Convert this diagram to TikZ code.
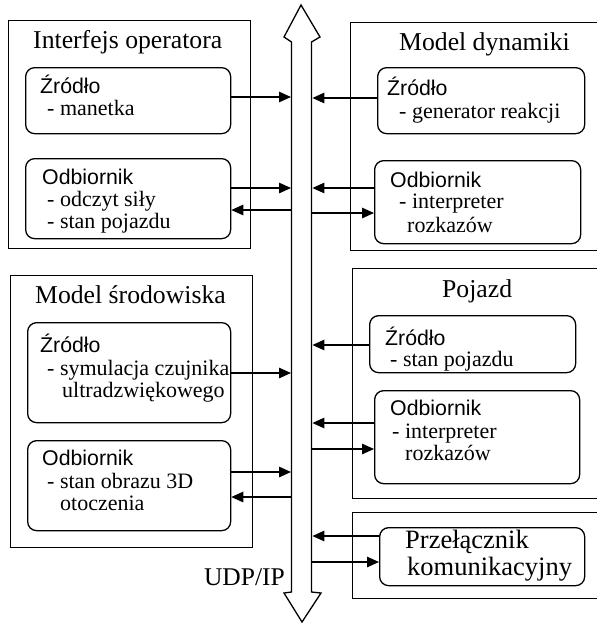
\documentclass[tikz,border=0pt]{standalone}
\usepackage{fontspec}
\setmainfont{Liberation Serif}
\newfontfamily\sansf{Liberation Sans}
\usetikzlibrary{arrows.meta}
\begin{document}
\begin{tikzpicture}[x=1pt,y=-1pt,
  outer/.style={draw, line width=1.3pt, rectangle, inner sep=0, anchor=north west},
  inner/.style={draw, line width=1.3pt, rectangle, rounded corners=9pt, inner sep=0, anchor=north west},
  ttl/.style={anchor=base west, inner sep=0, font=\fontsize{25.7}{28}\selectfont},
  hd/.style={anchor=base west, inner sep=0, font=\sansf\fontsize{21.3}{24}\selectfont},
  it/.style={anchor=base west, inner sep=0, font=\fontsize{22}{24}\selectfont},
  big/.style={anchor=base west, inner sep=0, font=\fontsize{26.5}{28}\selectfont},
  conn/.style={line width=1.3pt, -{Triangle[length=12pt,width=10.5pt]}}]
\useasboundingbox (0,0) rectangle (597,624);
\clip (0,0) rectangle (597,624);

% bus
\node[inner sep=0, minimum width=21pt, minimum height=550pt, anchor=north west] (bus) at (291,42) {};
\draw[line width=1.3pt, line join=miter] (291.5,42) -- (284,37) -- (301,5) -- (320,37) -- (311.5,42)
  -- (311.5,592) -- (321,593) -- (302,622) -- (284,593) -- (291.5,592) -- cycle;
\node[anchor=base east, inner sep=0, font=\fontsize{25.5}{28}\selectfont] (udp) at (285,585) {UDP/IP};

% Interfejs operatora
\node[outer, minimum width=242pt, minimum height=228pt] (io) at (8,20) {};
\node[ttl] (iot) at (33,48) {Interfejs operatora};
\node[inner, minimum width=205pt, minimum height=66pt] (ioz) at (25,67) {};
\node[hd] (iozh) at (40,93) {Źródło};
\node[it] (iozt) at (47,115) {- manetka};
\node[inner, minimum width=205pt, minimum height=80pt] (ioo) at (25,158) {};
\node[hd] (iooh) at (42,184) {Odbiornik};
\node[it] (ioo1) at (47,206) {- odczyt siły};
\node[it] (ioo2) at (47,228) {- stan pojazdu};

% Model dynamiki
\node[outer, minimum width=260pt, minimum height=228pt] (md) at (350,22) {};
\node[ttl] (mdt) at (399,50) {Model dynamiki};
\node[inner, minimum width=207pt, minimum height=66pt] (mdz) at (377,67) {};
\node[hd] (mdzh) at (387,95) {Źródło};
\node[it] (mdzt) at (399,118) {- generator reakcji};
\node[inner, minimum width=206pt, minimum height=83pt] (mdo) at (374,160) {};
\node[hd] (mdoh) at (390,187) {Odbiornik};
\node[it] (mdo1) at (399,208) {- interpreter};
\node[it] (mdo2) at (407,232) {rozkazów};

% Model srodowiska
\node[outer, minimum width=242pt, minimum height=272pt] (ms) at (10,275) {};
\node[ttl] (mst) at (35,303) {Model środowiska};
\node[inner, minimum width=203pt, minimum height=100pt] (msz) at (27,322) {};
\node[hd] (mszh) at (40,352) {Źródło};
\node[it] (msz1) at (47,375) {- symulacja czujnika};
\node[it] (msz2) at (62,397) {ultradzwiękowego};
\node[inner, minimum width=203pt, minimum height=90pt] (mso) at (27,440) {};
\node[hd] (msoh) at (42,465) {Odbiornik};
\node[it] (mso1) at (47,488) {- stan obrazu 3D};
\node[it] (mso2) at (60,510) {otoczenia};

% Pojazd
\node[outer, minimum width=260pt, minimum height=230pt] (pj) at (352,268) {};
\node[ttl] (pjt) at (442,297) {Pojazd};
\node[inner, minimum width=206pt, minimum height=57pt] (pjz) at (369,315) {};
\node[hd] (pjzh) at (385,345) {Źródło};
\node[it] (pjzt) at (390,366) {- stan pojazdu};
\node[inner, minimum width=205pt, minimum height=93pt] (pjo) at (374,390) {};
\node[hd] (pjoh) at (390,415) {Odbiornik};
\node[it] (pjo1) at (392,438) {- interpreter};
\node[it] (pjo2) at (405,460) {rozkazów};

% Przelacznik
\node[outer, minimum width=260pt, minimum height=86pt] (pk) at (352,512) {};
\node[inner, minimum width=205pt, minimum height=58pt] (pkb) at (379,527) {};
\node[big] (pk1) at (405,548) {Przełącznik};
\node[big] (pk2) at (407,575) {komunikacyjny};

% connectors
\draw[conn] (ioz.east |- 0,97) -- (bus.west |- 0,97);
\draw[conn] (ioo.east |- 0,188) -- (bus.west |- 0,188);
\draw[conn] (bus.west |- 0,210) -- (ioo.east |- 0,210);

\draw[conn] (mdz.west |- 0,98) -- (bus.east |- 0,98);
\draw[conn] (mdo.west |- 0,188) -- (bus.east |- 0,188);
\draw[conn] (bus.east |- 0,213) -- (mdo.west |- 0,213);

\draw[conn] (msz.east |- 0,373) -- (bus.west |- 0,373);
\draw[conn] (mso.east |- 0,472) -- (bus.west |- 0,472);
\draw[conn] (bus.west |- 0,497) -- (mso.east |- 0,497);

\draw[conn] (pjz.west |- 0,345) -- (bus.east |- 0,345);
\draw[conn] (pjo.west |- 0,423) -- (bus.east |- 0,423);
\draw[conn] (bus.east |- 0,449) -- (pjo.west |- 0,449);

\draw[conn] (pkb.west |- 0,536) -- (bus.east |- 0,536);
\draw[conn] (bus.east |- 0,562) -- (pkb.west |- 0,562);
\end{tikzpicture}
\end{document}
